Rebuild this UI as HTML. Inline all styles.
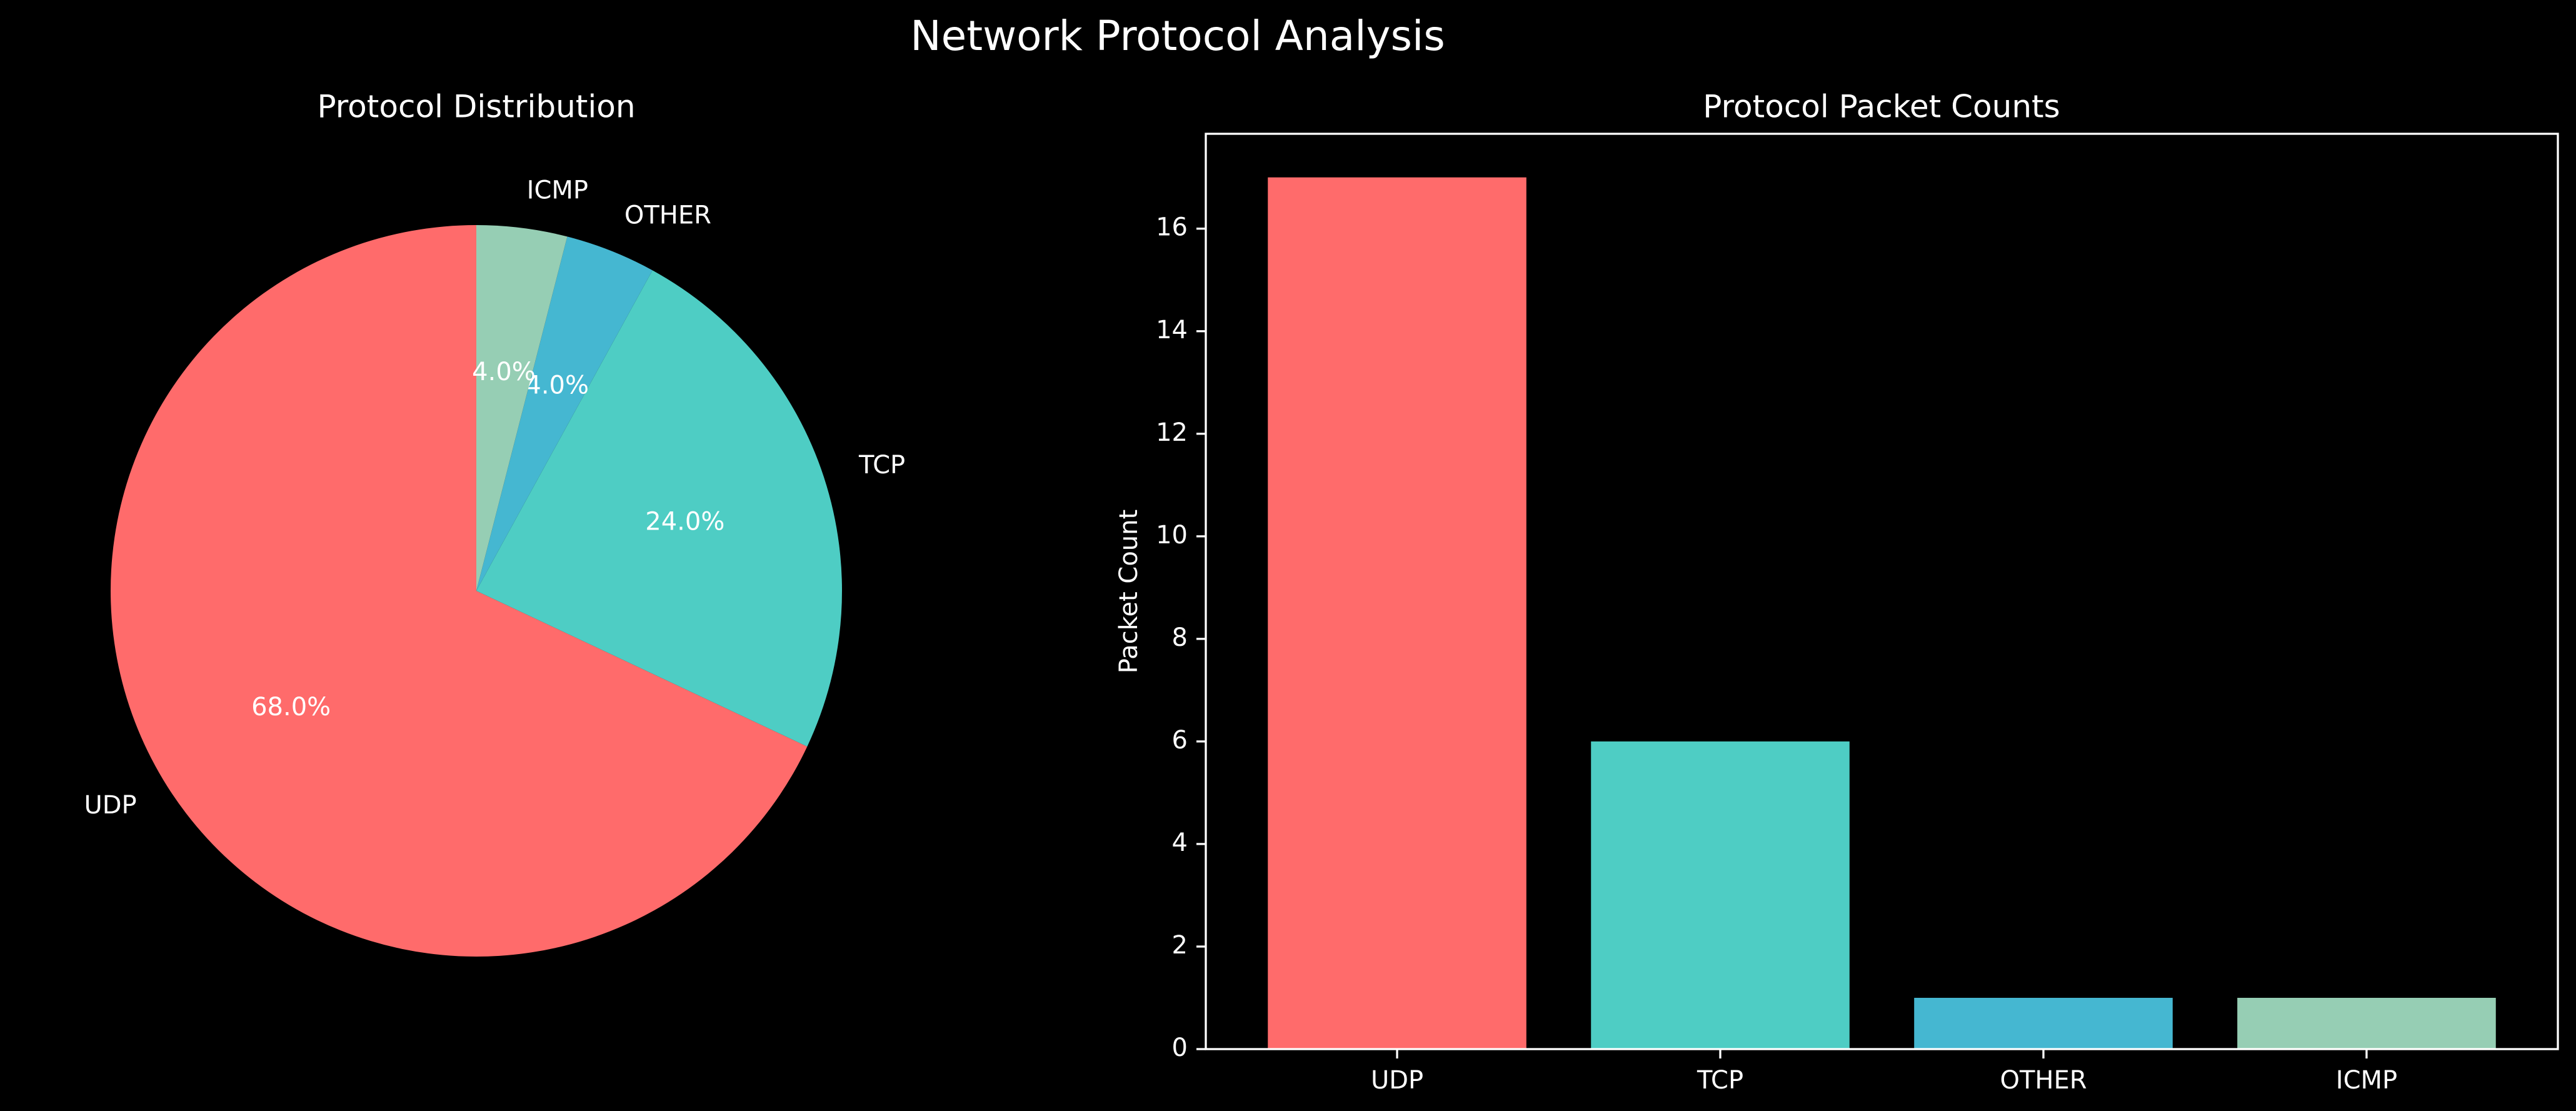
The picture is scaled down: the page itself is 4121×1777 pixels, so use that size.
<!DOCTYPE html>
<html><head><meta charset="utf-8">
<style>
html,body{margin:0;padding:0;background:#000;}
svg{display:block;font-family:"DejaVu Sans","Liberation Sans",sans-serif;}
</style></head>
<body>
<svg id="chart" width="4121" height="1777" viewBox="0 0 4121 1777" xmlns="http://www.w3.org/2000/svg">
<rect width="4121" height="1777" fill="#000"/>
<text x="1884" y="62" fill="#fff" font-size="66" text-anchor="middle" dominant-baseline="middle">Network Protocol Analysis</text>
<text x="762" y="174" fill="#fff" font-size="50" text-anchor="middle" dominant-baseline="middle">Protocol Distribution</text>
<text x="3010" y="174" fill="#fff" font-size="50" text-anchor="middle" dominant-baseline="middle">Protocol Packet Counts</text>
<g id="pie"></g>
<g id="bars"></g>
</svg>
<script>
const categories = ["UDP", "TCP", "OTHER", "ICMP"];
const counts = [17, 6, 1, 1];
const colors = ["#FF6B6B", "#4ECDC4", "#45B7D1", "#96CEB4"];
const yTicks = [0, 2, 4, 6, 8, 10, 12, 14, 16];

const NS = "http://www.w3.org/2000/svg";
function mk(tag, attrs, parent) {
  const e = document.createElementNS(NS, tag);
  for (const k in attrs) e.setAttribute(k, attrs[k]);
  parent.appendChild(e);
  return e;
}

// Pie
const pie = document.getElementById("pie");
const cx = 762, cy = 945, R = 585;
const total = counts.reduce((a, b) => a + b, 0);
let ang = 90;
counts.forEach((v, i) => {
  const sweep = v / total * 360;
  const a0 = ang * Math.PI / 180, a1 = (ang + sweep) * Math.PI / 180;
  const x0 = cx + R * Math.cos(a0), y0 = cy - R * Math.sin(a0);
  const x1 = cx + R * Math.cos(a1), y1 = cy - R * Math.sin(a1);
  const large = sweep > 180 ? 1 : 0;
  const p = mk("path", {d: `M${cx},${cy} L${x0},${y0} A${R},${R} 0 ${large} 0 ${x1},${y1} Z`, fill: colors[i]}, pie);
  
  
  const mid = (ang + sweep / 2) * Math.PI / 180;
  const lx = cx + 1.1 * R * Math.cos(mid), ly = cy - 1.1 * R * Math.sin(mid);
  const lab = mk("text", {x: lx, y: ly, fill: "#fff", "font-size": 40, "text-anchor": Math.cos(mid) >= 0 ? "start" : "end", "dominant-baseline": "middle"}, pie);
  lab.textContent = categories[i];
  
  
  const px = cx + 0.6 * R * Math.cos(mid), py = cy - 0.6 * R * Math.sin(mid);
  const pct = mk("text", {x: px, y: py, fill: "#fff", "font-size": 40, "text-anchor": "middle", "dominant-baseline": "middle"}, pie);
  pct.textContent = (v / total * 100).toFixed(1) + "%";
  
  
  ang += sweep;
});

// Bars
const bars = document.getElementById("bars");
const L = 1929, Rr = 4092, T = 214, B = 1678;
const xmin = -0.592, xmax = categories.length - 1 + 0.592;
const ymax = Math.max(...counts) * 1.05;
const xs = v => L + (v - xmin) / (xmax - xmin) * (Rr - L);
const ys = v => B - v / ymax * (B - T);
const bw = 0.8 * (xs(1) - xs(0));
counts.forEach((v, i) => {
  const r = mk("rect", {x: xs(i) - bw / 2, y: ys(v), width: bw, height: B - ys(v), fill: colors[i]}, bars);
  
  
  const tk = mk("line", {x1: xs(i), x2: xs(i), y1: B, y2: B + 15, stroke: "#fff", "stroke-width": 3.3}, bars);
  
  
  const t = mk("text", {x: xs(i), y: B + 52, fill: "#fff", "font-size": 40, "text-anchor": "middle", "dominant-baseline": "middle"}, bars);
  t.textContent = categories[i];
  
  
});
yTicks.forEach(v => {
  const tk = mk("line", {x1: L - 15, x2: L, y1: ys(v), y2: ys(v), stroke: "#fff", "stroke-width": 3.3}, bars);
  
  
  const t = mk("text", {x: L - 29, y: ys(v), fill: "#fff", "font-size": 40, "text-anchor": "end", "dominant-baseline": "middle"}, bars);
  t.textContent = v;
  
  
});
const frame = mk("rect", {x: L, y: T, width: Rr - L, height: B - T, fill: "none", stroke: "#fff", "stroke-width": 3.3}, bars);


const yl = mk("text", {x: 1808, y: (T + B) / 2, fill: "#fff", "font-size": 40, "text-anchor": "middle", "dominant-baseline": "middle", transform: `rotate(-90 1808 ${(T + B) / 2})`}, bars);
yl.textContent = "Packet Count";


</script>
</body></html>
